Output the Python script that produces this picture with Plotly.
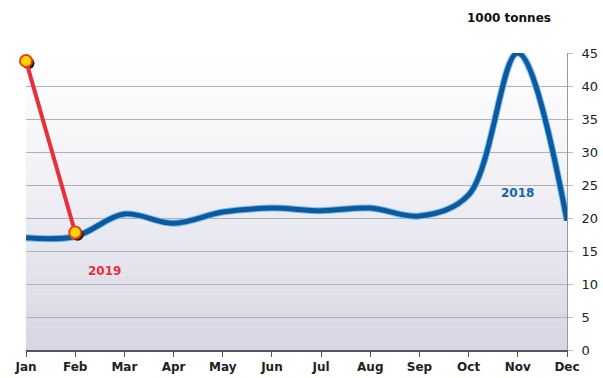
import plotly.graph_objects as go

months = ["Jan", "Feb", "Mar", "Apr", "May", "Jun", "Jul", "Aug", "Sep", "Oct", "Nov", "Dec"]
y2018 = [17.0, 17.2, 20.6, 19.2, 20.9, 21.5, 21.1, 21.5, 20.3, 23.5, 45.0, 19.6]
months2019 = ["Jan", "Feb"]
y2019 = [43.8, 17.8]
yticks = [0, 5, 10, 15, 20, 25, 30, 35, 40, 45]

fig = go.Figure()

# gradient background bands (plot area)
n = 40
top = (255, 255, 255)
bot = (214, 214, 228)
for i in range(n):
    t0 = i / n
    t1 = (i + 1) / n
    f = 1 - (t0 + t1) / 2  # 0 at top, 1 at bottom
    f = f ** 1.2
    c = tuple(int(round(top[k] + (bot[k] - top[k]) * f)) for k in range(3))
    fig.add_shape(type="rect", xref="x domain", yref="y domain",
                  x0=0, x1=1, y0=t0, y1=t1 + 0.001,
                  fillcolor="rgb(%d,%d,%d)" % c, line_width=0, layer="below")

xi = list(range(len(months)))
# 2018 glow + line
fig.add_trace(go.Scatter(x=xi, y=y2018, mode="lines", line=dict(color="#7cbcec", width=7, shape="spline", smoothing=1.0),
                         hoverinfo="skip", showlegend=False, cliponaxis=False))
fig.add_trace(go.Scatter(x=xi, y=y2018, mode="lines", line=dict(color="#0b5aa0", width=5, shape="spline", smoothing=1.0),
                         name="2018", showlegend=False, cliponaxis=False))
# 2019
x19 = [months.index(m) for m in months2019]
fig.add_trace(go.Scatter(x=[v + 0.05 for v in x19], y=[v - 0.35 for v in y2019], mode="markers",
                         marker=dict(size=12, color="#2a1a10"), hoverinfo="skip", showlegend=False, cliponaxis=False))
fig.add_trace(go.Scatter(x=x19, y=y2019, mode="lines+markers",
                         line=dict(color="#e8303a", width=4),
                         marker=dict(size=12, color="#ffd400", line=dict(color="#e8401e", width=2)),
                         name="2019", showlegend=False, cliponaxis=False))

fig.add_annotation(x=10.0, y=23.8, xref="x", yref="y", text="<b>2018</b>", showarrow=False,
                   font=dict(family="DejaVu Sans", size=12, color="#1563ad"))
fig.add_annotation(x=1.6, y=12.0, xref="x", yref="y", text="<b>2019</b>", showarrow=False,
                   font=dict(family="DejaVu Sans", size=12, color="#e8303a"))
fig.add_annotation(x=(509 - 26) / 541, y=(378 - 28 - 18) / 297, xref="paper", yref="paper",
                   xanchor="center", yanchor="middle",
                   text="<b>1000 tonnes</b>", showarrow=False,
                   font=dict(family="DejaVu Sans", size=12, color="#111"))

fig.update_layout(
    width=603, height=378,
    margin=dict(l=26, r=36, t=53, b=28, autoexpand=False),
    paper_bgcolor="white", plot_bgcolor="white",
    showlegend=False,
    xaxis=dict(range=[0, 11], tickmode="array", tickvals=xi, ticktext=["<b>%s</b>" % m for m in months],
               showgrid=False, zeroline=False, showline=True, linecolor="#555", linewidth=1.5,
               ticks="outside", ticklen=5, tickcolor="#555", automargin=False,
               tickfont=dict(family="DejaVu Sans", size=12, color="#222")),
    yaxis=dict(range=[0, 45], side="right", tickmode="array", tickvals=yticks,
               showgrid=True, gridcolor="#b0b0b8", gridwidth=1, zeroline=False,
               showline=True, linecolor="#999", linewidth=1, automargin=False,
               ticks="outside", ticklen=5, tickcolor="#bbb", ticklabelstandoff=6,
               tickfont=dict(family="DejaVu Sans", size=13, color="#222")),
)

fig.write_html("out.html", config={"displayModeBar": False},
               post_script="document.body.style.margin='0';document.body.style.overflow='hidden';")
